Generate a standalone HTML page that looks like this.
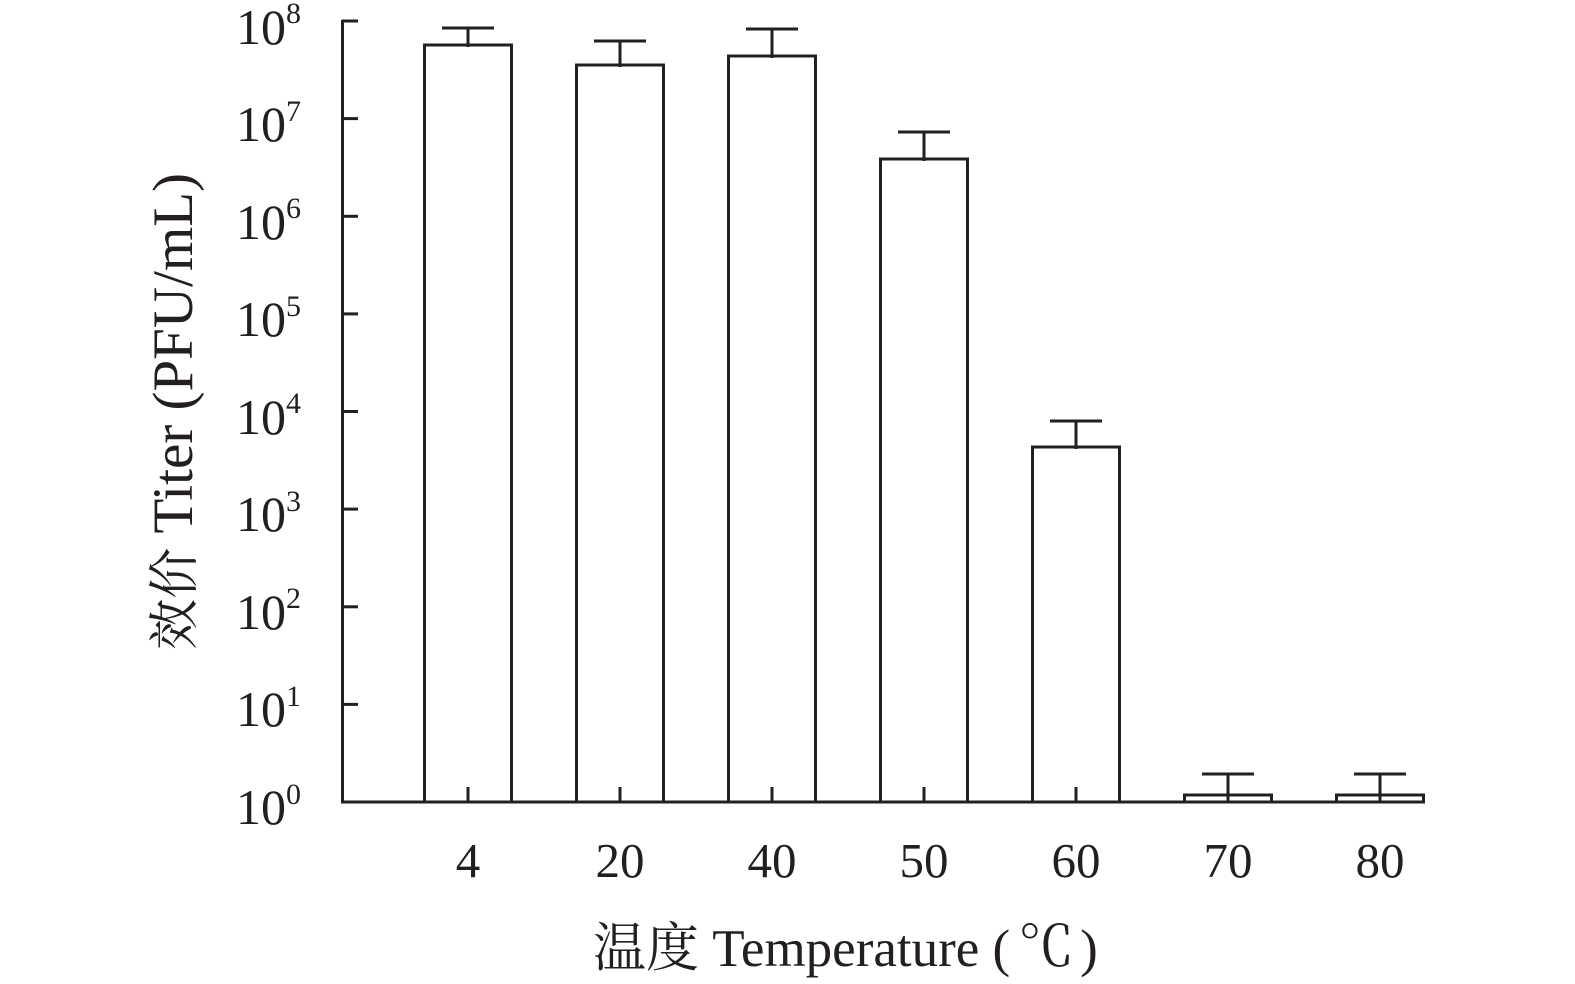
<!DOCTYPE html>
<html>
<head>
<meta charset="utf-8">
<style>
html,body{margin:0;padding:0;background:#fff;}
svg{display:block;}
text{font-family:"Liberation Serif","Noto Serif CJK SC",serif;fill:#231f20;}
</style>
</head>
<body>
<svg width="1575" height="984" viewBox="0 0 1575 984" xmlns="http://www.w3.org/2000/svg">
<g stroke="#231f20" stroke-width="3" fill="none">
  <line x1="342.5" y1="20" x2="342.5" y2="803"/>
  <line x1="342" y1="21" x2="358" y2="21"/>
  <line x1="342" y1="118.6" x2="358" y2="118.6"/>
  <line x1="342" y1="216.3" x2="358" y2="216.3"/>
  <line x1="342" y1="313.9" x2="358" y2="313.9"/>
  <line x1="342" y1="411.5" x2="358" y2="411.5"/>
  <line x1="342" y1="509.1" x2="358" y2="509.1"/>
  <line x1="342" y1="606.8" x2="358" y2="606.8"/>
  <line x1="342" y1="704.4" x2="358" y2="704.4"/>
  <rect x="424.5" y="45" width="87" height="757" fill="#fff"/>
  <rect x="576.5" y="65" width="87" height="737" fill="#fff"/>
  <rect x="728.5" y="56" width="87" height="746" fill="#fff"/>
  <rect x="880.5" y="159" width="87" height="643" fill="#fff"/>
  <rect x="1032.5" y="447" width="87" height="355" fill="#fff"/>
  <rect x="1184.5" y="795" width="87" height="7" fill="#fff"/>
  <rect x="1336.5" y="795" width="87" height="7" fill="#fff"/>
  <line x1="468" y1="28" x2="468" y2="47"/><line x1="442" y1="28" x2="494" y2="28"/>
  <line x1="620" y1="41" x2="620" y2="67"/><line x1="594" y1="41" x2="646" y2="41"/>
  <line x1="772" y1="29" x2="772" y2="58"/><line x1="746" y1="29" x2="798" y2="29"/>
  <line x1="924" y1="132" x2="924" y2="161"/><line x1="898" y1="132" x2="950" y2="132"/>
  <line x1="1076" y1="421" x2="1076" y2="449"/><line x1="1050" y1="421" x2="1102" y2="421"/>
  <line x1="1228" y1="774" x2="1228" y2="802"/><line x1="1202" y1="774" x2="1254" y2="774"/>
  <line x1="1380" y1="774" x2="1380" y2="802"/><line x1="1354" y1="774" x2="1406" y2="774"/>
  <line x1="468" y1="787" x2="468" y2="802"/>
  <line x1="620" y1="787" x2="620" y2="802"/>
  <line x1="772" y1="787" x2="772" y2="802"/>
  <line x1="924" y1="787" x2="924" y2="802"/>
  <line x1="1076" y1="787" x2="1076" y2="802"/>
  <line x1="341" y1="802" x2="1425" y2="802"/>
</g>

<g font-size="50" text-anchor="end">
  <text x="286" y="44">10</text>
  <text x="286" y="141">10</text>
  <text x="286" y="239">10</text>
  <text x="286" y="336">10</text>
  <text x="286" y="434">10</text>
  <text x="286" y="531">10</text>
  <text x="286" y="629">10</text>
  <text x="286" y="726">10</text>
  <text x="286" y="824">10</text>
</g>
<g font-size="30">
  <text x="286" y="23">8</text>
  <text x="286" y="121">7</text>
  <text x="286" y="218">6</text>
  <text x="286" y="316">5</text>
  <text x="286" y="413">4</text>
  <text x="286" y="511">3</text>
  <text x="286" y="608">2</text>
  <text x="286" y="706">1</text>
  <text x="286" y="804">0</text>
</g>

<g font-size="49" text-anchor="middle">
  <text x="468" y="877">4</text>
  <text x="620" y="877">20</text>
  <text x="772" y="877">40</text>
  <text x="924" y="877">50</text>
  <text x="1076" y="877">60</text>
  <text x="1228" y="877">70</text>
  <text x="1380" y="877">80</text>
</g>

<text x="593" y="966" font-size="53">温度 Temperature (<tspan dx="8" font-size="56">℃</tspan><tspan dx="6">)</tspan></text>

<text transform="translate(192,173) rotate(-90)" text-anchor="end" font-size="57"><tspan font-size="51">效价</tspan> Titer (PFU/mL)</text>
</svg>
</body>
</html>
